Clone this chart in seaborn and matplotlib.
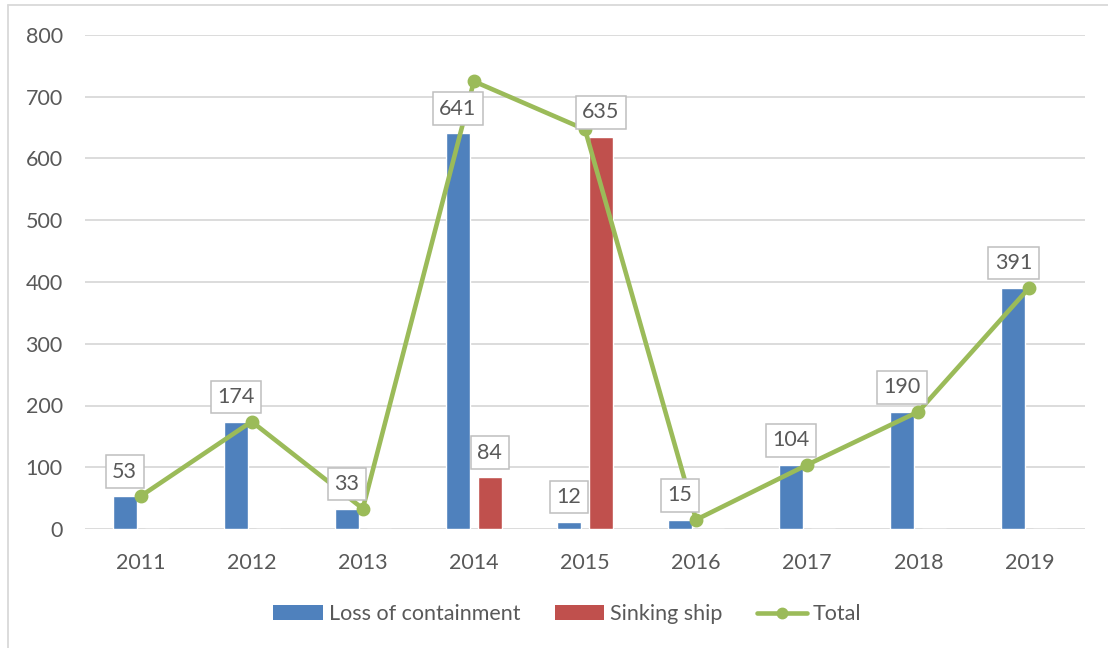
import matplotlib
matplotlib.use("Agg")
import matplotlib.pyplot as plt
from matplotlib.lines import Line2D
from matplotlib.patches import Patch
import pandas as pd
import seaborn as sns

# Incident counts per year
years = ["2011", "2012", "2013", "2014", "2015", "2016", "2017", "2018", "2019"]
loss_of_containment = [53, 174, 33, 641, 12, 15, 104, 190, 391]
sinking_ship = [0, 0, 0, 84, 635, 0, 0, 0, 0]
total = [a + b for a, b in zip(loss_of_containment, sinking_ship)]
series_names = ["Loss of containment", "Sinking ship", "Total"]
y_ticks = [0, 100, 200, 300, 400, 500, 600, 700, 800]

BLUE = "#4F81BD"
RED = "#C0504D"
GREEN = "#9BBB59"
GRID = "#D9D9D9"
TEXT = "#595959"
FS = 15.5

sns.set_theme(style="white")
plt.rcParams["font.family"] = ["Lato", "DejaVu Sans"]

bars = pd.DataFrame({
    "year": years * 2,
    "value": loss_of_containment + sinking_ship,
    "series": [series_names[0]] * len(years) + [series_names[1]] * len(years),
})

fig = plt.figure(figsize=(11.08, 6.48), dpi=100)
ax = fig.add_axes([85 / 1108, 1 - 529 / 648, 1000 / 1108, (529 - 35) / 648])

sns.barplot(data=bars, x="year", y="value", hue="series", order=years,
            hue_order=series_names[:2], palette=[BLUE, RED], saturation=1,
            width=0.576, gap=0.25, legend=False, ax=ax, zorder=2)

sns.pointplot(x=years, y=total, order=years, color=GREEN, markers="o",
              markersize=7.5, linewidth=3.3, errorbar=None, ax=ax, zorder=3)

# Boxed value labels above each non-zero bar
box = dict(boxstyle="square,pad=0.3", facecolor="white", edgecolor="#BFBFBF", linewidth=1.1)
for container, values in zip(ax.containers[:2], [loss_of_containment, sinking_ship]):
    labels = [str(v) if v > 0 else "" for v in values]
    texts = ax.bar_label(container, labels=labels, padding=10.5, fontsize=FS,
                         color=TEXT, bbox=box)
    for t in texts:
        t.set_zorder(5)
        if not t.get_text():
            t.set_bbox(None)

ax.set_ylim(0, 800)
ax.set_xlim(-0.5, len(years) - 0.5)
ax.set_yticks(y_ticks)
ax.yaxis.grid(True, color=GRID, linewidth=1.3)
ax.xaxis.grid(False)
ax.set_axisbelow(True)
for s in ax.spines.values():
    s.set_visible(False)
ax.tick_params(axis="both", length=0, labelsize=FS, colors=TEXT)
ax.tick_params(axis="y", pad=16)
ax.tick_params(axis="x", pad=17)
ax.set_xlabel("")
ax.set_ylabel("")

handles = [
    Patch(facecolor=BLUE, edgecolor="none"),
    Patch(facecolor=RED, edgecolor="none"),
    Line2D([], [], color=GREEN, linewidth=3.3, marker="o", markersize=7.5),
]
fig.legend(handles, series_names, loc="center", bbox_to_anchor=(0.512, 0.052),
           ncol=3, frameon=False, fontsize=FS, labelcolor=TEXT,
           handlelength=2.3, handletextpad=0.28, columnspacing=1.6)

# Light chart-area frame
fig.add_artist(Line2D([8 / 1108, 8 / 1108], [0, 1 - 5 / 648], transform=fig.transFigure,
                      color=GRID, linewidth=1.3))
fig.add_artist(Line2D([8 / 1108, 1], [1 - 5 / 648, 1 - 5 / 648], transform=fig.transFigure,
                      color=GRID, linewidth=1.3))

fig.savefig("out.png", dpi=100, facecolor="white")
